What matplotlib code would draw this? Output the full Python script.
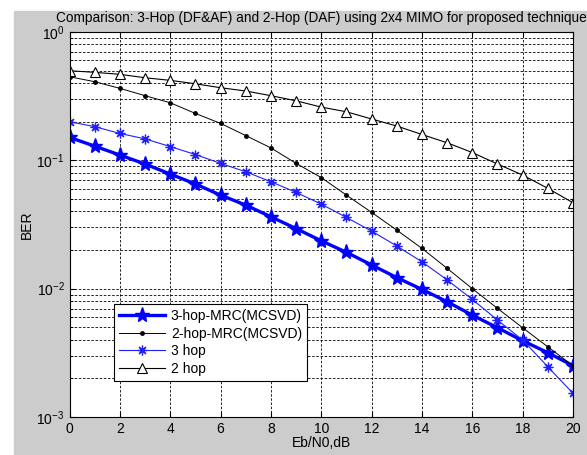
import matplotlib.pyplot as plt
from matplotlib.patches import Rectangle
from matplotlib.ticker import LogLocator, MultipleLocator

plt.rcParams['font.family'] = ['Liberation Sans', 'DejaVu Sans']

snr = list(range(0, 21))

ber_3hop_mrc = [0.151, 0.129, 0.110, 0.0936, 0.0782, 0.0654, 0.0536, 0.0448, 0.0363, 0.0294,
                0.0236, 0.0192, 0.0153, 0.0122, 0.00987, 0.00791, 0.00622, 0.00496, 0.00393,
                0.00317, 0.00251]
ber_2hop_mrc = [0.448, 0.410, 0.364, 0.319, 0.281, 0.232, 0.194, 0.156, 0.125, 0.0947,
                0.0734, 0.0536, 0.0393, 0.0286, 0.0206, 0.0144, 0.0100, 0.00702, 0.00496,
                0.00352, 0.00251]
ber_3hop = [0.200, 0.183, 0.162, 0.147, 0.128, 0.111, 0.0947, 0.0815, 0.0681, 0.0563,
            0.0456, 0.0359, 0.0281, 0.0215, 0.0162, 0.0117, 0.00825, 0.00569, 0.00398,
            0.00246, 0.00153]
ber_2hop = [0.499, 0.485, 0.468, 0.440, 0.420, 0.395, 0.368, 0.347, 0.319, 0.291,
            0.260, 0.239, 0.210, 0.185, 0.159, 0.137, 0.115, 0.0936, 0.0768, 0.0605,
            0.0467]

labels = ['3-hop-MRC(MCSVD)', '2-hop-MRC(MCSVD)', '3 hop', '2 hop']

fig = plt.figure(figsize=(5.87, 4.55), dpi=100)
# grey matlab-style figure background (screenshot leaves white strip on top/left)
fig.patches.append(Rectangle((14 / 587, 0), 1, (455 - 11) / 455,
                             transform=fig.transFigure, color='#cccccc', zorder=-10))

ax = fig.add_axes([69.5 / 587, (455 - 417) / 455, (573 - 69.5) / 587, (417 - 32) / 455])

ax.semilogy(snr, ber_3hop_mrc, '-*', color='blue', lw=2.4, ms=11, label=labels[0])
ax.semilogy(snr, ber_2hop_mrc, color='black', lw=0.7, marker='.', ms=5, label=labels[1])
ax.semilogy(snr, ber_3hop, '-', color='#2020ff', lw=0.8, marker=(8, 2, 0), ms=7,
            mew=0.9, label=labels[2])
ax.semilogy(snr, ber_2hop, '-^', color='black', lw=0.8, ms=7, mfc='white', mew=0.8,
            label=labels[3])

ax.set_xlim(0, 20)
ax.set_ylim(1e-3, 1)
ax.xaxis.set_major_locator(MultipleLocator(2))
ax.yaxis.set_major_locator(LogLocator(base=10))
ax.yaxis.set_minor_locator(LogLocator(base=10, subs=range(2, 10)))
ax.tick_params(which='both', direction='in', top=True, right=True, labelsize=10)
ax.tick_params(which='minor', length=2)
ax.grid(True, which='major', color='black', linestyle=(0, (3, 2)), lw=0.6)
ax.grid(True, which='minor', axis='y', color='black', linestyle=(0, (3, 2)), lw=0.6)

ax.set_title('Comparison: 3-Hop (DF&AF) and 2-Hop (DAF) using 2x4 MIMO for proposed technique',
             fontsize=9.8, pad=7)
ax.set_xlabel('Eb/N0,dB', fontsize=10, labelpad=0)
ax.set_ylabel('BER', fontsize=10, labelpad=2)

leg = ax.legend(loc='lower left', bbox_to_anchor=(0.088, 0.093), borderaxespad=0,
                fontsize=10, fancybox=False, framealpha=1, edgecolor='black',
                handlelength=3.3, labelspacing=0.25, handletextpad=0.4)
leg.get_frame().set_linewidth(0.8)

fig.savefig('out.png', dpi=100)
